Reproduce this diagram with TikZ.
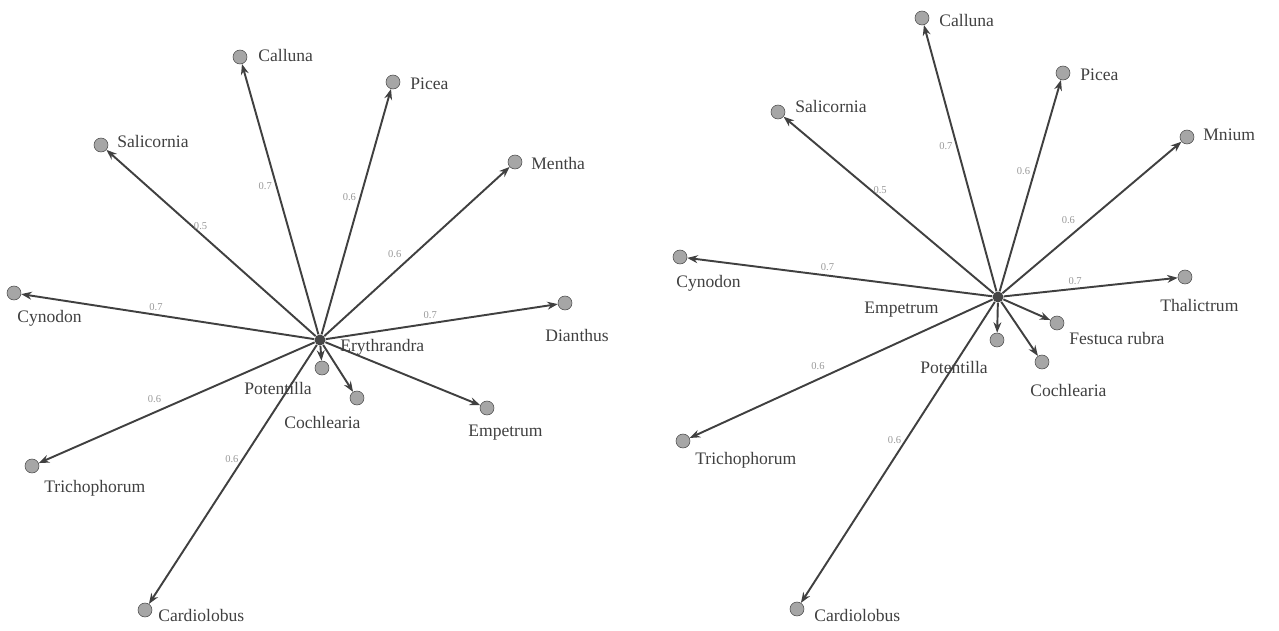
\documentclass[tikz,border=0pt]{standalone}
\usepackage{fontspec}
\setmainfont{Liberation Serif}
\usetikzlibrary{arrows.meta}
\tikzset{
  dot/.style={circle,fill=gray!70,draw=gray!55!black,line width=0.3pt,inner sep=0,minimum size=0.28cm},
  hubdot/.style={circle,fill=gray!55!black,inner sep=0,minimum size=0.22cm},
  lbl/.style={font=\fontsize{10}{12}\selectfont,text=black!75,inner sep=0},
  arr/.style={-{Stealth[length=6pt,width=4.5pt]},line width=1.1pt,draw=black!75},
  wt/.style={font=\fontsize{6}{7}\selectfont,text=black!40,inner sep=2pt}
}
\begin{document}
\begin{tikzpicture}[x=0.02cm,y=-0.02cm]
\useasboundingbox (0,0) rectangle (1279,630);
% ---------- left panel ----------
\node[hubdot] (A) at (320,340) {};
\node[dot] (Acal) at (240,57) {};
\node[dot] (Apic) at (393,82) {};
\node[dot] (Asal) at (101,145) {};
\node[dot] (Amen) at (515,162) {};
\node[dot] (Acyn) at (14,293) {};
\node[dot] (Adia) at (565,303) {};
\node[dot] (Apot) at (322,368) {};
\node[dot] (Acoc) at (357,398) {};
\node[dot] (Aemp) at (487,408) {};
\node[dot] (Atri) at (32,466) {};
\node[dot] (Acar) at (145,610) {};
\node[lbl,anchor=west] (tAcal) at (258,55) {Calluna};
\node[lbl,anchor=west] (tApic) at (410,84) {Picea};
\node[lbl,anchor=west] (tAsal) at (117,141) {Salicornia};
\node[lbl,anchor=west] (tAmen) at (531,163) {Mentha};
\node[lbl,anchor=west] (tAcyn) at (17,318) {Cynodon};
\node[lbl,anchor=west] (tAdia) at (545,335) {Dianthus};
\node[lbl,anchor=west] (tA) at (340,347) {Erythrandra};
\node[lbl,anchor=west] (tApot) at (244,388) {Potentilla};
\node[lbl,anchor=west] (tAcoc) at (284,422) {Cochlearia};
\node[lbl,anchor=west] (tAemp) at (468,433) {Empetrum};
\node[lbl,anchor=west] (tAtri) at (44,488) {Trichophorum};
\node[lbl,anchor=west] (tAcar) at (158,615) {Cardiolobus};
\draw[arr] (A) -- node[wt,pos=0.55,left] {0.7} (Acal);
\draw[arr] (A) -- node[wt,pos=0.56,left] {0.6} (Apic);
\draw[arr] (A) -- node[wt,pos=0.55,above] {0.5} (Asal);
\draw[arr] (A) -- node[wt,pos=0.44,above left] {0.6} (Amen);
\draw[arr] (A) -- node[wt,pos=0.54,above] {0.7} (Acyn);
\draw[arr] (A) -- node[wt,pos=0.45,above] {0.7} (Adia);
\draw[arr] (A) -- (Apot);
\draw[arr] (A) -- (Acoc);
\draw[arr] (A) -- (Aemp);
\draw[arr] (A) -- node[wt,pos=0.54,above left] {0.6} (Atri);
\draw[arr] (A) -- node[wt,pos=0.44,left] {0.6} (Acar);
% ---------- right panel ----------
\node[hubdot] (B) at (998,297) {};
\node[dot] (Bcal) at (922,18) {};
\node[dot] (Bpic) at (1063,73) {};
\node[dot] (Bsal) at (778,112) {};
\node[dot] (Bmni) at (1187,137) {};
\node[dot] (Bcyn) at (680,257) {};
\node[dot] (Btha) at (1185,277) {};
\node[dot] (Bfes) at (1057,323) {};
\node[dot] (Bpot) at (997,340) {};
\node[dot] (Bcoc) at (1042,362) {};
\node[dot] (Btri) at (683,441) {};
\node[dot] (Bcar) at (797,609) {};
\node[lbl,anchor=west] (tBcal) at (939,20) {Calluna};
\node[lbl,anchor=west] (tBpic) at (1080,75) {Picea};
\node[lbl,anchor=west] (tBsal) at (795,106) {Salicornia};
\node[lbl,anchor=west] (tBmni) at (1203,135) {Mnium};
\node[lbl,anchor=west] (tBcyn) at (676,283) {Cynodon};
\node[lbl,anchor=west] (tBtha) at (1160,305) {Thalictrum};
\node[lbl,anchor=west] (tB) at (864,310) {Empetrum};
\node[lbl,anchor=west] (tBfes) at (1069,338) {Festuca rubra};
\node[lbl,anchor=west] (tBpot) at (920,367) {Potentilla};
\node[lbl,anchor=west] (tBcoc) at (1030,390) {Cochlearia};
\node[lbl,anchor=west] (tBtri) at (695,460) {Trichophorum};
\node[lbl,anchor=west] (tBcar) at (814,615) {Cardiolobus};
\draw[arr] (B) -- node[wt,pos=0.545,left] {0.7} (Bcal);
\draw[arr] (B) -- node[wt,pos=0.57,left] {0.6} (Bpic);
\draw[arr] (B) -- node[wt,pos=0.54,above] {0.5} (Bsal);
\draw[arr] (B) -- node[wt,pos=0.43,above left] {0.6} (Bmni);
\draw[arr] (B) -- node[wt,pos=0.54,above] {0.7} (Bcyn);
\draw[arr] (B) -- node[wt,pos=0.41,above] {0.7} (Btha);
\draw[arr] (B) -- (Bfes);
\draw[arr] (B) -- (Bpot);
\draw[arr] (B) -- (Bcoc);
\draw[arr] (B) -- node[wt,pos=0.54,above left] {0.6} (Btri);
\draw[arr] (B) -- node[wt,pos=0.46,left] {0.6} (Bcar);
\end{tikzpicture}
\end{document}
